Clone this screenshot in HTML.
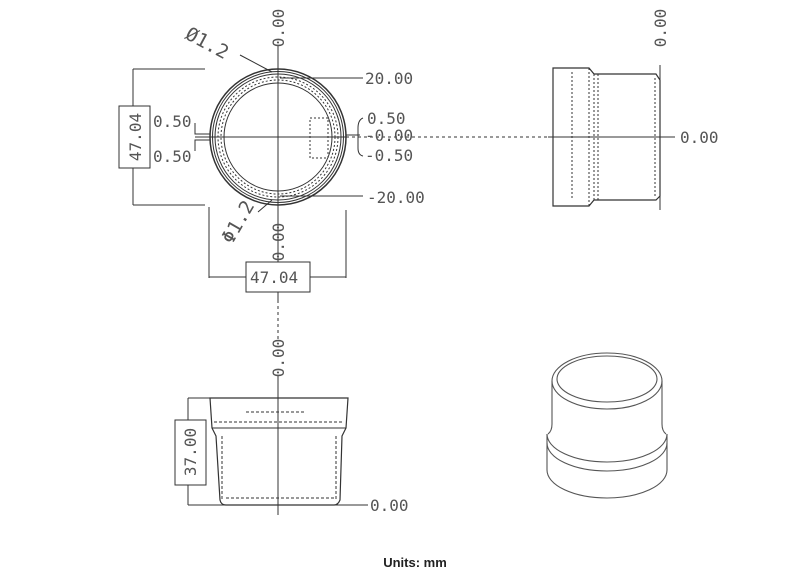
<!DOCTYPE html>
<html><head><style>
html,body{margin:0;padding:0;background:#fff;width:800px;height:583px;overflow:hidden}
svg{display:block}
text{font-family:"DejaVu Sans Mono","Liberation Mono",monospace;fill:#555;font-weight:300}
</style></head><body>
<svg width="800" height="583" viewBox="0 0 800 583" xmlns="http://www.w3.org/2000/svg">
<g stroke="#333" fill="none" stroke-width="1">
<!-- top view -->
<circle cx="278" cy="137" r="68" stroke-width="1.5"/>
<circle cx="278" cy="137" r="65.5"/>
<circle cx="278" cy="137" r="63"/>
<circle cx="278" cy="137" r="60" stroke-dasharray="2 2"/>
<circle cx="278" cy="137" r="57" stroke-dasharray="2 2"/>
<circle cx="278" cy="137" r="54"/>
<line x1="278" y1="45" x2="278" y2="300"/>
<line x1="278" y1="300" x2="278" y2="340" stroke-dasharray="3 3"/>
<line x1="195" y1="137" x2="346" y2="137"/>
<line x1="346" y1="137" x2="675" y2="137" stroke-dasharray="3 3"/>
<rect x="310" y="118" width="18" height="40" stroke-dasharray="2 2"/>
<!-- left dim -->
<line x1="133" y1="69" x2="205" y2="69"/><line x1="133" y1="205" x2="205" y2="205"/>
<line x1="133" y1="69" x2="133" y2="205"/>
<path d="M195 123 V134 H210 M195 151 V140 H210"/>
<rect x="119" y="106" width="31" height="62" fill="#fff"/>
<!-- bottom dim -->
<line x1="209" y1="207" x2="209" y2="278"/><line x1="346" y1="210" x2="346" y2="278"/>
<line x1="209" y1="277" x2="346" y2="277"/>
<rect x="246" y="262" width="64" height="30" fill="#fff"/>
<!-- right leaders -->
<path d="M280 78 H363 M280 196 H363 M363 118 Q358 120 358 128 V148 Q358 155 363 156 M346 135 H360"/>
<path d="M272 72 L240 55 M272 200 L258 212"/>
<!-- front view -->
<path d="M210 398 H348 L346 428 L342 436 L340 500 Q338 505 334 505 H226 Q221 505 220 500 L216 436 L212 428 Z" stroke-width="1.2"/>
<line x1="212" y1="428" x2="346" y2="428"/>
<path d="M214 422 H342 M222 436 V500 M336 436 V500 M226 498 H334 M246 412 H305" stroke-dasharray="3 2"/>
<line x1="278" y1="375" x2="278" y2="515"/>
<line x1="188" y1="398" x2="210" y2="398"/><line x1="188" y1="505" x2="368" y2="505"/>
<line x1="188" y1="398" x2="188" y2="505"/>
<rect x="175" y="420" width="31" height="65" fill="#fff"/>
<!-- side view -->
<path d="M553 68 H589 L594 74 H656 L660 80 V196 L656 200 H594 L589 206 H553 Z" stroke-width="1.2"/>
<path d="M589 68 V206 M594 74 V200 M572 72 V200 M598 74 V200 M655 78 V198" stroke-dasharray="2 2"/>
<line x1="660" y1="65" x2="660" y2="210"/>
<line x1="548" y1="137" x2="675" y2="137"/>
<!-- 3d -->
<g stroke="#555" stroke-width="1.1">
<ellipse cx="607" cy="381" rx="55" ry="28"/>
<ellipse cx="607" cy="379" rx="50" ry="23"/>
<path d="M552 381 V424 M662 381 V424"/>
<path d="M552 424 Q552 431 548 434 M662 424 Q662 431 666 434"/>
<path d="M547 434 A60 28 0 0 0 667 434"/>
<path d="M547 443 A60 28 0 0 0 667 443"/>
<path d="M547 434 V470 A60 28 0 0 0 667 470 V434"/>
</g>
</g>
<g font-size="16">
<text x="365" y="84">20.00</text>
<text x="367" y="124">0.50</text>
<text x="365" y="141">-0.00</text>
<text x="365" y="161">-0.50</text>
<text x="367" y="203">-20.00</text>
<text x="153" y="127">0.50</text>
<text x="153" y="162">0.50</text>
<text x="250" y="283">47.04</text>
<text x="680" y="143">0.00</text>
<text x="370" y="511">0.00</text>
<text transform="translate(141,137) rotate(-90)" text-anchor="middle">47.04</text>
<text transform="translate(196,452) rotate(-90)" text-anchor="middle">37.00</text>
<text transform="translate(284,28) rotate(-90)" text-anchor="middle">0.00</text>
<text transform="translate(284,242) rotate(-90)" text-anchor="middle">0.00</text>
<text transform="translate(284,358) rotate(-90)" text-anchor="middle">0.00</text>
<text transform="translate(666,28) rotate(-90)" text-anchor="middle">0.00</text>
<text transform="translate(184,38) rotate(28)" font-size="19">Ø1.2</text>
<text transform="translate(232,245) rotate(-60)" font-size="19">Φ1.2</text>
</g>
<text x="415" y="567" text-anchor="middle" style="font-family:'Liberation Sans',sans-serif;font-weight:bold;font-size:13px;fill:#222">Units: mm</text>
</svg>
</body></html>
